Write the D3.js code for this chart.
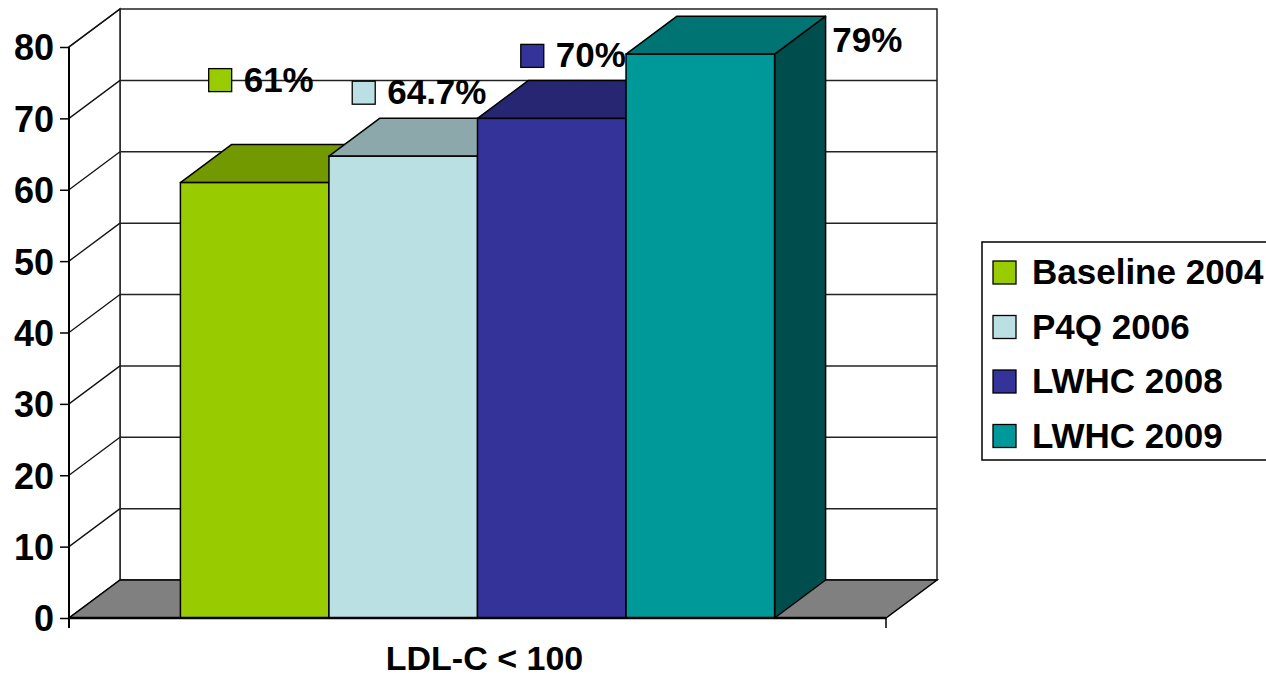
<!DOCTYPE html>
<html>
<head>
<meta charset="utf-8">
<script src="https://cdn.jsdelivr.net/npm/d3@7"></script>
<style>
  html, body { margin: 0; padding: 0; background: #fff; overflow: hidden; }
  svg { display: block; font-family: "Liberation Sans", Arial, sans-serif; font-weight: bold; }
</style>
</head>
<body>
<svg id="chart" width="1266" height="678"></svg>
<script>
// Chart data
const categories = ["LDL-C < 100"];
const seriesNames = ["Baseline 2004", "P4Q 2006", "LWHC 2008", "LWHC 2009"];
const seriesValues = [61, 64.7, 70, 79];
const valueLabels = ["61%", "64.7%", "70%", "79%"];
const yTickValues = [0, 10, 20, 30, 40, 50, 60, 70, 80];

// Face colours for each series (front, top, side)
const frontColors = ["#99CC00", "#BBE0E3", "#333399", "#009999"];
const topColors   = ["#739900", "#8CA8AA", "#262673", "#007373"];
const sideColors  = ["#5C7A00", "#70878A", "#1F1F5C", "#004D4D"];

// Layout
const plot = { left: 69, right: 886, top: 47, bottom: 618 };
const depth = { dx: 51, dy: 38 };
// Label nudges relative to the bar's front-top centre (key left edge, text baseline)
const labelNudgeX = [-46, -51, -31, 97];
const labelNudgeY = [-91, -52, -51, -2];

const svg = d3.select("#chart");
const font = 35;

const y = d3.scaleLinear().domain([0, 80]).range([plot.bottom, plot.top]);
const xCat = d3.scaleBand().domain(categories).range([plot.left, plot.right]).padding(0);
const xSeries = d3.scaleBand().domain(seriesNames)
  .range([0, xCat.bandwidth()]).paddingInner(0).paddingOuter(0.75);

const pt = (px, py) => px + "," + py;
const poly = pts => pts.map(p => pt(p[0], p[1])).join(" ");

const ink = "#000";
const wall = svg.append("g");

// Back wall
const bx0 = plot.left + depth.dx, bx1 = plot.right + depth.dx;
wall.append("rect")
  .attr("x", bx0).attr("y", y(80) - depth.dy)
  .attr("width", bx1 - bx0).attr("height", y(0) - y(80))
  .attr("fill", "#fff").attr("stroke", "#222").attr("stroke-width", 1.5);

// Side wall
wall.append("polygon")
  .attr("points", poly([[plot.left, y(0)], [bx0, y(0) - depth.dy], [bx0, y(80) - depth.dy], [plot.left, y(80)]]))
  .attr("fill", "#fff").attr("stroke", "#222").attr("stroke-width", 1.5);

// Gridlines: back wall horizontals and side wall diagonals
yTickValues.forEach(v => {
  if (v > 0 && v < 80) {
    wall.append("line")
      .attr("x1", bx0).attr("x2", bx1)
      .attr("y1", y(v) - depth.dy).attr("y2", y(v) - depth.dy)
      .attr("stroke", "#222").attr("stroke-width", 1.5);
  }
  if (v > 0) {
    wall.append("line")
      .attr("x1", plot.left).attr("y1", y(v))
      .attr("x2", bx0).attr("y2", y(v) - depth.dy)
      .attr("stroke", "#111").attr("stroke-width", 1.3);
  }
});

// Floor
wall.append("polygon")
  .attr("points", poly([[plot.left, y(0)], [plot.right, y(0)], [bx1, y(0) - depth.dy], [bx0, y(0) - depth.dy]]))
  .attr("fill", "#808080").attr("stroke", ink).attr("stroke-width", 1.5);

const cat = categories[0];
const barX = i => xCat(cat) + xSeries(seriesNames[i]);
const bw = xSeries.bandwidth();

// Value label keys (drawn beneath the bars)
const labelX = i => barX(i) + bw / 2 + labelNudgeX[i];
const labelY = i => y(seriesValues[i]) + labelNudgeY[i];
const keySize = 23;
svg.append("g").selectAll("rect")
  .data(seriesValues)
  .join("rect")
  .attr("x", (d, i) => labelX(i))
  .attr("y", (d, i) => labelY(i) - keySize)
  .attr("width", keySize).attr("height", keySize)
  .attr("fill", (d, i) => frontColors[i])
  .attr("stroke", ink).attr("stroke-width", 1.3);

// Bars, painted left to right
const bars = svg.append("g");
seriesValues.forEach((v, i) => {
  const x0 = barX(i), x1 = x0 + bw;
  const yt = y(v), yb = y(0);
  const g = bars.append("g");
  g.append("polygon")
    .attr("points", poly([[x1, yb], [x1 + depth.dx, yb - depth.dy], [x1 + depth.dx, yt - depth.dy], [x1, yt]]))
    .attr("fill", sideColors[i]).attr("stroke", ink).attr("stroke-width", 1.5).attr("stroke-linejoin", "round");
  g.append("polygon")
    .attr("points", poly([[x0, yt], [x1, yt], [x1 + depth.dx, yt - depth.dy], [x0 + depth.dx, yt - depth.dy]]))
    .attr("fill", topColors[i]).attr("stroke", ink).attr("stroke-width", 1.5).attr("stroke-linejoin", "round");
  g.append("rect")
    .attr("x", x0).attr("y", yt).attr("width", bw).attr("height", yb - yt)
    .attr("fill", frontColors[i]).attr("stroke", ink).attr("stroke-width", 1.5);
});

// Value label texts
svg.append("g").selectAll("text")
  .data(valueLabels)
  .join("text")
  .attr("x", (d, i) => labelX(i) + 35)
  .attr("y", (d, i) => labelY(i))
  .attr("font-size", font)
  .attr("fill", ink)
  .text(d => d);

// Value axis
const yAxis = svg.append("g").attr("transform", `translate(${plot.left},0)`)
  .call(d3.axisLeft(y).tickValues(yTickValues).tickSize(9).tickPadding(6).tickFormat(d3.format("d")));
yAxis.select(".domain").attr("d", `M0,${y(80)}V${y(0) + 10}`).attr("stroke", ink).attr("stroke-width", 2);
yAxis.selectAll(".tick line").attr("stroke", ink).attr("stroke-width", 1.5);
yAxis.selectAll(".tick text")
  .attr("font-size", 36).attr("font-weight", "bold").attr("fill", ink)
  .attr("font-family", "Liberation Sans, Arial, sans-serif")
  .attr("dy", "0.36em");

// Category axis
const xAxis = svg.append("g").attr("transform", `translate(0,${plot.bottom})`);
xAxis.append("line")
  .attr("x1", plot.left).attr("x2", plot.right).attr("y1", 0).attr("y2", 0)
  .attr("stroke", ink).attr("stroke-width", 2.5);
[plot.left, plot.right].forEach(px => {
  xAxis.append("line").attr("x1", px).attr("x2", px).attr("y1", 0).attr("y2", 10)
    .attr("stroke", ink).attr("stroke-width", 1.5);
});
xAxis.append("text")
  .attr("x", xCat(cat) + xCat.bandwidth() / 2 + 7)
  .attr("y", 52)
  .attr("text-anchor", "middle")
  .attr("font-size", 34)
  .attr("fill", ink)
  .text(cat);

// Legend
const legend = svg.append("g");
legend.append("rect")
  .attr("x", 982).attr("y", 242).attr("width", 330).attr("height", 218)
  .attr("fill", "#fff").attr("stroke", ink).attr("stroke-width", 1.5);
const rows = legend.selectAll("g.row")
  .data(seriesNames)
  .join("g").attr("class", "row")
  .attr("transform", (d, i) => `translate(993,${284 + i * 54.5})`);
rows.append("rect")
  .attr("x", 0).attr("y", -keySize).attr("width", keySize).attr("height", keySize)
  .attr("fill", (d, i) => frontColors[i]).attr("stroke", ink).attr("stroke-width", 1.3);
rows.append("text")
  .attr("x", 39).attr("y", 0)
  .attr("font-size", font).attr("fill", ink)
  .text(d => d);
</script>
</body>
</html>
